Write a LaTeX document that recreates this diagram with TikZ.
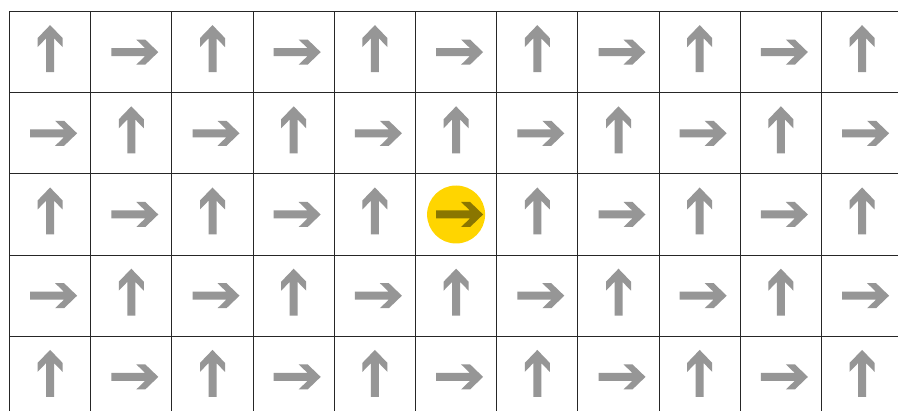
\documentclass[tikz,border=0pt]{standalone}
\definecolor{arrowgray}{HTML}{969696}
\definecolor{dotyellow}{HTML}{FFD500}
\definecolor{arrowolive}{HTML}{8A7600}
\definecolor{gridcol}{HTML}{262626}
\newcommand\myarrowpath[1]{%
  \fill[#1] (-20,-4) -- (13.8,-4) -- (5,-12.5) -- (14,-12.5) -- (27,0)
     -- (14,12.5) -- (5,12.5) -- (13.8,4) -- (-20,4) -- cycle;}
\tikzset{gridline/.style={draw=gridcol, line width=1pt}}
\begin{document}
\begin{tikzpicture}[x=1pt,y=-1pt]
\useasboundingbox (0,0) rectangle (898,411);
\fill[white] (0,0) rectangle (898,411);
\begin{scope}
\clip (0,0) rectangle (898,411);
\foreach \k in {0,...,10} {
  \draw[gridline] (9.5+81.2*\k,11.5) -- (9.5+81.2*\k,411);
}
\foreach \j in {0,...,4} {
  \draw[gridline] (9.5,11.5+81.2*\j) -- (898,11.5+81.2*\j);
}
\end{scope}
\coordinate (dot) at (50.1+81.2*5,52.1+81.2*2);
\fill[dotyellow] (dot) circle[radius=29];
\foreach \r in {0,...,4} {
  \foreach \c in {0,...,10} {
    \pgfmathtruncatemacro\p{mod(\r+\c,2)}
    \pgfmathtruncatemacro\isdot{(\r==2)&&(\c==5)}
    \ifnum\p=0 \def\ang{90}\else\def\ang{0}\fi
    \ifnum\isdot=1 \def\acol{arrowolive}\else\def\acol{arrowgray}\fi
    \begin{scope}[shift={(50.1+81.2*\c,52.1+81.2*\r)},rotate=\ang]
      \myarrowpath{\acol}
    \end{scope}
  }
}
\end{tikzpicture}
\end{document}
